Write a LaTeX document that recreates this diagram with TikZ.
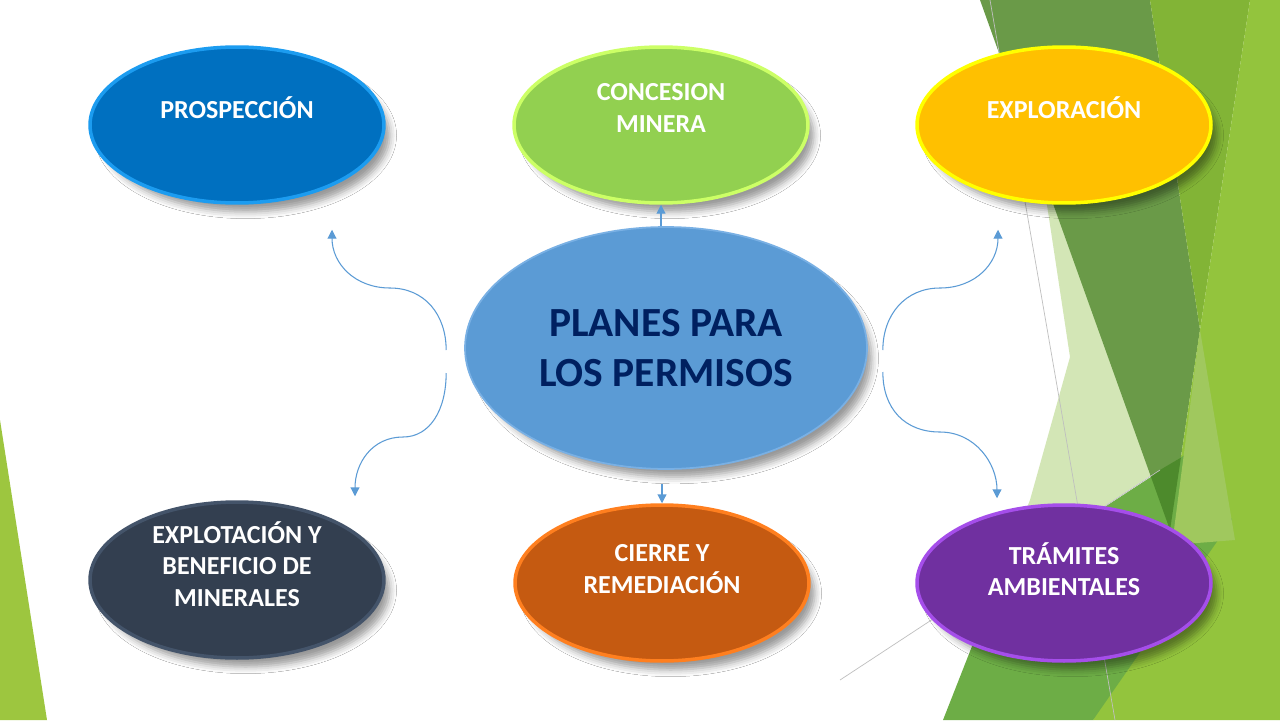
\documentclass[tikz,border=0pt]{standalone}
\usepackage{fontspec}
\setmainfont{Carlito}
\usetikzlibrary{calc,shapes.geometric,shadows.blur,arrows.meta}
\definecolor{prospC}{HTML}{0070C0}\definecolor{prospR}{HTML}{1C9CF0}
\definecolor{concC}{HTML}{92D050}\definecolor{concR}{HTML}{CCFF66}
\definecolor{exploC}{HTML}{FFC000}\definecolor{exploR}{HTML}{FFFF00}
\definecolor{explotC}{HTML}{333F50}\definecolor{explotR}{HTML}{44546A}
\definecolor{cierreC}{HTML}{C55A11}\definecolor{cierreR}{HTML}{FF7F1F}
\definecolor{tramC}{HTML}{7030A0}\definecolor{tramR}{HTML}{A54EEA}
\definecolor{planC}{HTML}{5B9BD5}\definecolor{planR}{HTML}{79B0E4}
\definecolor{navyC}{HTML}{002060}\definecolor{linkC}{HTML}{5B9BD5}
\definecolor{leafA}{HTML}{9DC63F}\definecolor{paleG}{HTML}{D3E6B6}
\definecolor{darkG}{HTML}{6A9A48}\definecolor{midG}{HTML}{82B436}
\definecolor{brightG}{HTML}{93C43D}\definecolor{grassG}{HTML}{6DAD46}
\definecolor{lightG}{HTML}{A0C85E}\definecolor{deepG}{HTML}{4D8A2C}
\tikzset{bubble/.style = {ellipse, minimum width=5.88cm, minimum height=3.12cm, line width=2pt,
    blur shadow={shadow xshift=5pt, shadow yshift=-6pt, shadow blur radius=4pt, shadow opacity=40, shadow scale=0.98}}}
\tikzset{tag/.style = {text=white, align=center, font=\bfseries\fontsize{14.8}{18}\selectfont}}
\tikzset{link/.style = {draw=linkC, line width=0.6pt, -{Triangle[width=5pt,length=5pt]}}}
\tikzset{hair/.style = {draw=black!25, line width=0.4pt}}

\begin{document}
\begin{tikzpicture}[x=0.02cm, y=-0.02cm]
      \useasboundingbox (0,0) rectangle (1280,720);
      \fill[white] (0,0) rectangle (1280,720);
      \fill[leafA] (0,420) -- (47,720) -- (0,720) -- cycle;
      \fill[paleG] (1042,172) -- (1070,357) -- (1030,500) -- (1000,575) -- (1165,466) -- (1120,300) -- cycle;
      \fill[darkG] (980,0) -- (1150,0) -- (1200,330) -- (1170,530) -- cycle;
      \fill[midG] (1150,0) -- (1250,0) -- (1200,330) -- cycle;
      \fill[brightG] (1250,0) -- (1280,0) -- (1280,720) -- (1093,720) -- (1170,530) -- (1200,330) -- cycle;
      \fill[grassG] (943,720) -- (1000,575) -- (1200,445) -- (1232,520) -- (1093,720) -- cycle;
      \fill[lightG] (1200,330) -- (1235,540) -- (1172,545) -- cycle;
      \fill[deepG] (1150.5,475.6) -- (1180.9,457.6) -- (1170,530) -- cycle;
      \draw[hair] (990,0) -- (1115,720);
      \draw[hair] (840,680) -- (1160,470);

      \node[bubble, fill=prospC, draw=prospR] (prosp) at (237,125) {};
      \node[tag] (prosp-t) at ($(prosp)+(0,-17)$) {PROSPECCIÓN};
      \node[bubble, fill=concC, draw=concR] (conc) at (661,125) {};
      \node[tag] (conc-t) at ($(conc)+(0,-17)$) {CONCESION\\MINERA};
      \node[bubble, fill=exploC, draw=exploR] (explo) at (1064,125) {};
      \node[tag] (explo-t) at ($(explo)+(0,-17)$) {EXPLORACIÓN};
      \node[bubble, fill=explotC, draw=explotR] (explot) at (237,580) {};
      \node[tag] (explot-t) at ($(explot)+(0,-16)$) {EXPLOTACIÓN Y\\BENEFICIO DE\\MINERALES};
      \node[bubble, fill=cierreC, draw=cierreR] (cierre) at (662,583) {};
      \node[tag] (cierre-t) at ($(cierre)+(0,-14)$) {CIERRE Y\\REMEDIACIÓN};
      \node[bubble, fill=tramC, draw=tramR] (tram) at (1064,583) {};
      \node[tag] (tram-t) at ($(tram)+(0,-14)$) {TRÁMITES\\AMBIENTALES};
      \node[bubble, minimum width=8.04cm, minimum height=4.84cm, fill=planC, draw=planR, line width=1pt,
            text=navyC, align=center, font=\bfseries\fontsize{23.6}{28.4}\selectfont] (plan) at (666,348) {PLANES PARA\\LOS PERMISOS};

      \coordinate (ul-a) at ($(plan.west)+(-18,2)$);
      \coordinate (ul-m) at (390,288);
      \coordinate (ul-b) at ($(prosp.south)+(95,25)$);
      \coordinate (ll-a) at ($(plan.west)+(-18,25)$);
      \coordinate (ll-m) at (403,437);
      \coordinate (ll-b) at ($(explot.north)+(118,-4)$);
      \coordinate (ur-a) at ($(plan.east)+(15,2)$);
      \coordinate (ur-m) at (940,288);
      \coordinate (ur-b) at ($(explo.south)+(-66,25)$);
      \coordinate (lr-a) at ($(plan.east)+(15,24)$);
      \coordinate (lr-m) at (940,432);
      \coordinate (lr-b) at ($(tram.north)+(-67,-5)$);
      \coordinate (cb-a) at ($(cierre.north |- plan.south)+(0,14)$);
      \draw[link] (ul-a) .. controls +(0,-35) and +(35,0) .. (ul-m) .. controls +(-35,0) and +(0,34) .. (ul-b);
      \draw[link] (ll-a) .. controls +(0,37) and +(27,0) .. (ll-m) .. controls +(-31,0) and +(0,-33) .. (ll-b);
      \draw[link] (ur-a) .. controls +(0,-35) and +(-35,0) .. (ur-m) .. controls +(35,0) and +(0,34) .. (ur-b);
      \draw[link] (lr-a) .. controls +(0,37) and +(-35,0) .. (lr-m) .. controls +(35,0) and +(0,-35) .. (lr-b);
      \draw[link] (conc.south |- plan.north) -- (conc.south);
      \draw[link] (cb-a) -- (cierre.north);
    \end{tikzpicture}
\end{document}
